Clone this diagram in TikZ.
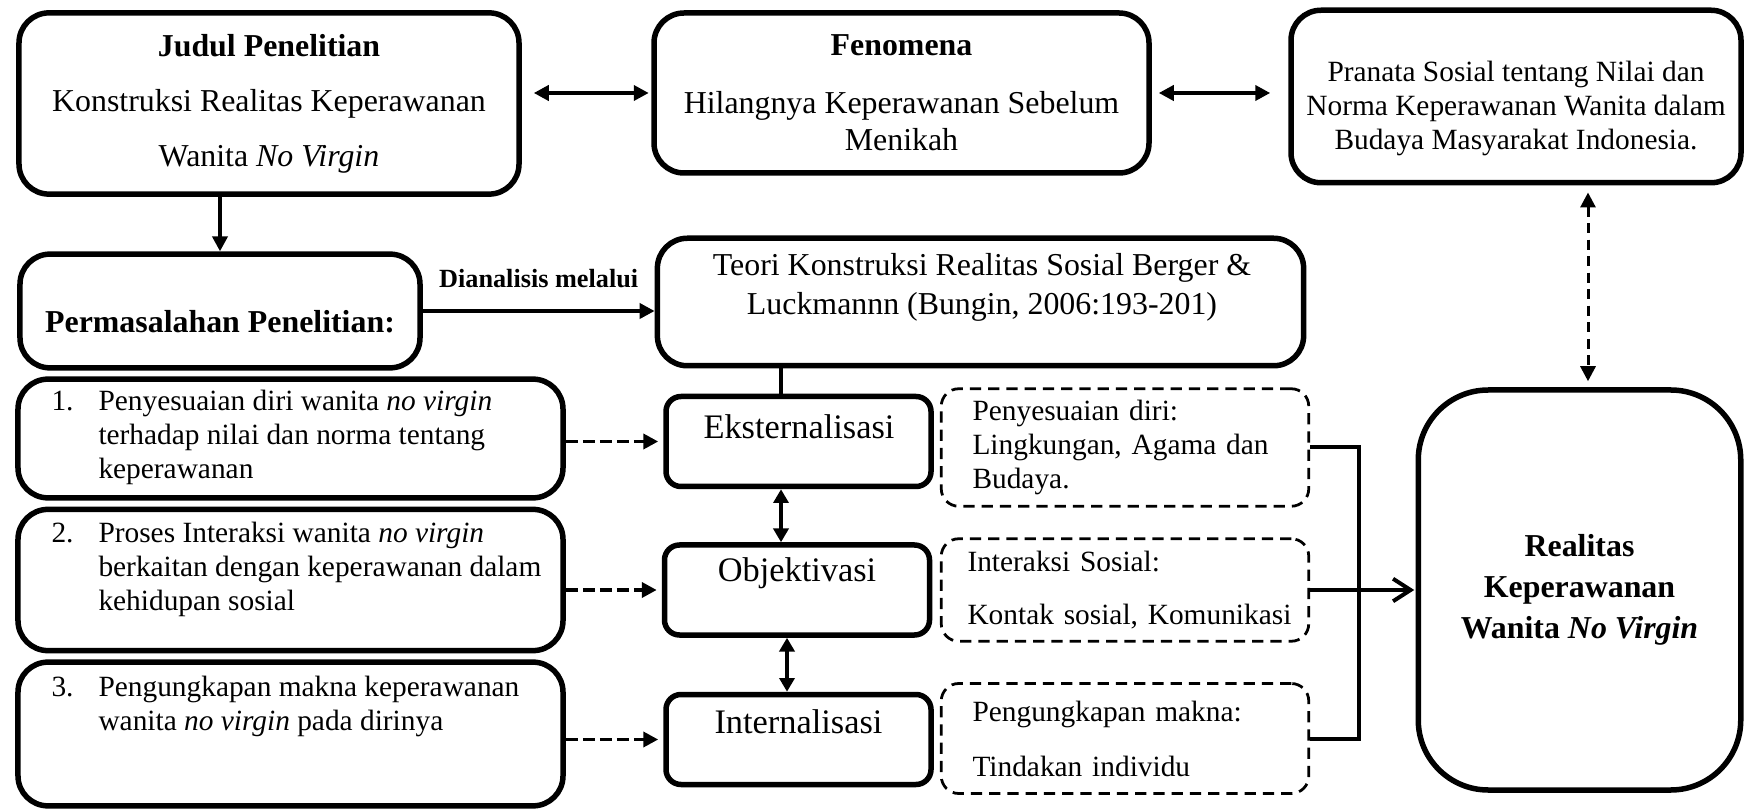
\documentclass[tikz,border=0pt]{standalone}
\usepackage{fontspec}
\setmainfont{Liberation Serif}
\usetikzlibrary{arrows.meta, positioning}

\newcommand{\fsMain}{\fontsize{12.75pt}{15pt}\selectfont}
\newcommand{\fsTheory}{\fontsize{12.75pt}{15.6pt}\selectfont}
\newcommand{\fsResult}{\fontsize{12.75pt}{16.4pt}\selectfont}
\newcommand{\fsList}{\fontsize{11.75pt}{13.6pt}\selectfont}
\newcommand{\fsProc}{\fontsize{13.75pt}{16pt}\selectfont}
\newcommand{\fsTag}{\fontsize{10.5pt}{12pt}\selectfont}

\begin{document}
\begin{tikzpicture}[x=0.4pt, y=-0.4pt,
		box/.style={shape=rectangle, draw, line width=2.2pt, rounded corners=12pt},
		procbox/.style={shape=rectangle, draw, line width=2.2pt, rounded corners=6pt, minimum width=106pt, minimum height=36pt},
		dashbox/.style={shape=rectangle, draw, line width=1.1pt, dash pattern=on 4.5pt off 2.8pt, rounded corners=7pt, minimum width=147pt, inner xsep=12.4pt, text width=122pt, align=left, font=\fsList},
		solidarrow/.style={line width=1.5pt, -{Triangle[length=6pt, width=6pt]}},
		dblarrow/.style={line width=1.5pt, {Triangle[length=6pt, width=6pt]}-{Triangle[length=6pt, width=6pt]}},
		dasharrow/.style={line width=1.5pt, dash pattern=on 4.8pt off 2pt, -{Triangle[length=6pt, width=6pt]}},
		thinarrow/.style={line width=1.5pt, {Triangle[length=5.5pt, width=6pt]}-{Triangle[length=5.5pt, width=6pt]}},
		bracketline/.style={line width=1.6pt}]
		\useasboundingbox (0,0) rectangle (1746,811);
		% Top row:
		\node[box, minimum width=200pt, minimum height=72.5pt, align=center, font=\fsMain](judul) at (269, 103.5){\textbf{Judul Penelitian}\\[7pt] Konstruksi Realitas Keperawanan\\[7pt] Wanita \textit{No Virgin}};
		\node[box, minimum width=198pt, minimum height=64pt, align=center, font=\fsMain](fenomena) at (901.5, 93){\textbf{Fenomena}\\[8pt] Hilangnya Keperawanan Sebelum\\ Menikah};
		\node[box, minimum width=180pt, minimum height=69pt](pranata) at (1516, 96.5){};
		\node[align=center, font=\fsList](pranataText) at (1516, 108.5){Pranata Sosial tentang Nilai dan\\ Norma Keperawanan Wanita dalam\\ Budaya Masyarakat Indonesia.};
		% Second row:
		\node[box, minimum width=160pt, minimum height=45.5pt](masalah) at (220, 311){};
		\node[font=\fsMain](masalahText) at (220, 322){\textbf{Permasalahan Penelitian:}};
		\node[box, minimum width=258.5pt, minimum height=51pt](teori) at (980.5, 302){};
		\node[align=center, font=\fsTheory](teoriText) at (982, 287.5){Teori Konstruksi Realitas Sosial Berger \&\\ Luckmannn (Bungin, 2006:193-201)};
		% Research problems:
		\node[box, minimum width=218pt, minimum height=47.5pt](list1) at (290.5, 438.5){};
		\node[box, minimum width=218pt, minimum height=56.5pt](list2) at (290.5, 580){};
		\node[box, minimum width=218pt, minimum height=57.5pt](list3) at (290.5, 734){};
		\node[anchor=west, inner sep=0pt, font=\fsList](list1Text) at (51, 437.5){\begin{tabular}{@{}p{18.8pt}@{}l@{}}
			1. & Penyesuaian diri wanita \textit{no virgin}\\
			 & terhadap nilai dan norma tentang\\
			 & keperawanan
		\end{tabular}};
		\node[anchor=west, inner sep=0pt, font=\fsList](list2Text) at (51, 570){\begin{tabular}{@{}p{18.8pt}@{}l@{}}
			2. & Proses Interaksi wanita \textit{no virgin}\\
			 & berkaitan dengan keperawanan dalam\\
			 & kehidupan sosial
		\end{tabular}};
		\node[anchor=west, inner sep=0pt, font=\fsList](list3Text) at (51, 706.5){\begin{tabular}{@{}p{18.8pt}@{}l@{}}
			3. & Pengungkapan makna keperawanan\\
			 & wanita \textit{no virgin} pada dirinya
		\end{tabular}};
		% Process boxes:
		\node[procbox](eks) at (798.5, 441.5){};
		\node[procbox](obj) at (797, 590){};
		\node[procbox](int) at (798.5, 739.5){};
		\node[font=\fsProc](eksText) at (799, 427){Eksternalisasi};
		\node[font=\fsProc](objText) at (797, 573){Objektivasi};
		\node[font=\fsProc](intText) at (798.5, 722){Internalisasi};
		\node[dashbox, minimum height=47pt](d1) at (1125, 447.5){Penyesuaian diri:\\ Lingkungan, Agama dan\\ Budaya.};
		\node[dashbox, minimum height=41pt](d2) at (1125, 590){\hspace*{-2pt}Interaksi Sosial:\\[7.6pt]\hspace*{-2pt}\mbox{Kontak sosial, Komunikasi}};
		\node[dashbox, minimum height=44pt](d3) at (1125, 738.5){Pengungkapan makna:\\[8.4pt] Tindakan individu};
		% Result:
		\node[shape=rectangle, draw, line width=2.2pt, rounded corners=28pt, minimum width=129pt, minimum height=160pt, align=center, font=\fsResult\bfseries](realitas) at (1579.5, 590){Realitas\\ Keperawanan\\ Wanita \textit{No Virgin}};
		% Connectors:
		\draw[dblarrow, shorten <=4.8pt, shorten >=1pt] (judul.east |- fenomena.west) -- (fenomena.west);
		\draw[dblarrow, shorten <=2.8pt, shorten >=7.2pt] (fenomena.east) -- (fenomena.east -| pranata.west);
		\draw[solidarrow] (masalah.north |- judul.south) -- (masalah.north);
		\draw[solidarrow] (masalah.east) -- (masalah.east -| teori.west) node[midway, above=5pt, font=\fsTag\bfseries](tagLabel){Dianalisis melalui};
		\coordinate (te) at ([xshift=-7pt]eks.north);
		\coordinate (eo) at ([xshift=-7pt]eks.south);
		\coordinate (oi) at ([xshift=-4pt]obj.south);
		\draw[line width=1.5pt] (te |- teori.south) -- (te);
		\draw[thinarrow] (eo) -- (eo |- obj.north);
		\draw[thinarrow] (oi) -- (oi |- int.north);
		\draw[dasharrow, shorten >=2pt] (list1.east |- eks.west) -- (eks.west);
		\draw[dasharrow, shorten >=2pt] (list2.east |- obj.west) -- (obj.west);
		\draw[dasharrow, shorten >=2pt] (list3.east |- int.west) -- (int.west);
		\coordinate (br) at (1359, 590);
		\draw[bracketline] (d1.east) -| (br) |- (d3.east);
		\draw[bracketline, -{Straight Barb[length=7pt, width=9pt]}, shorten >=0.5pt] (d2.east) -- (d2.east -| realitas.west);
		\coordinate (pr) at ([xshift=3.4pt]realitas.north);
		\draw[line width=1.2pt, dash pattern=on 4pt off 2.6pt, {Triangle[length=6pt, width=6pt]}-{Triangle[length=6pt, width=6pt]}, shorten <=2.8pt, shorten >=2.4pt] (pr |- pranata.south) -- (pr);
	\end{tikzpicture}
\end{document}
